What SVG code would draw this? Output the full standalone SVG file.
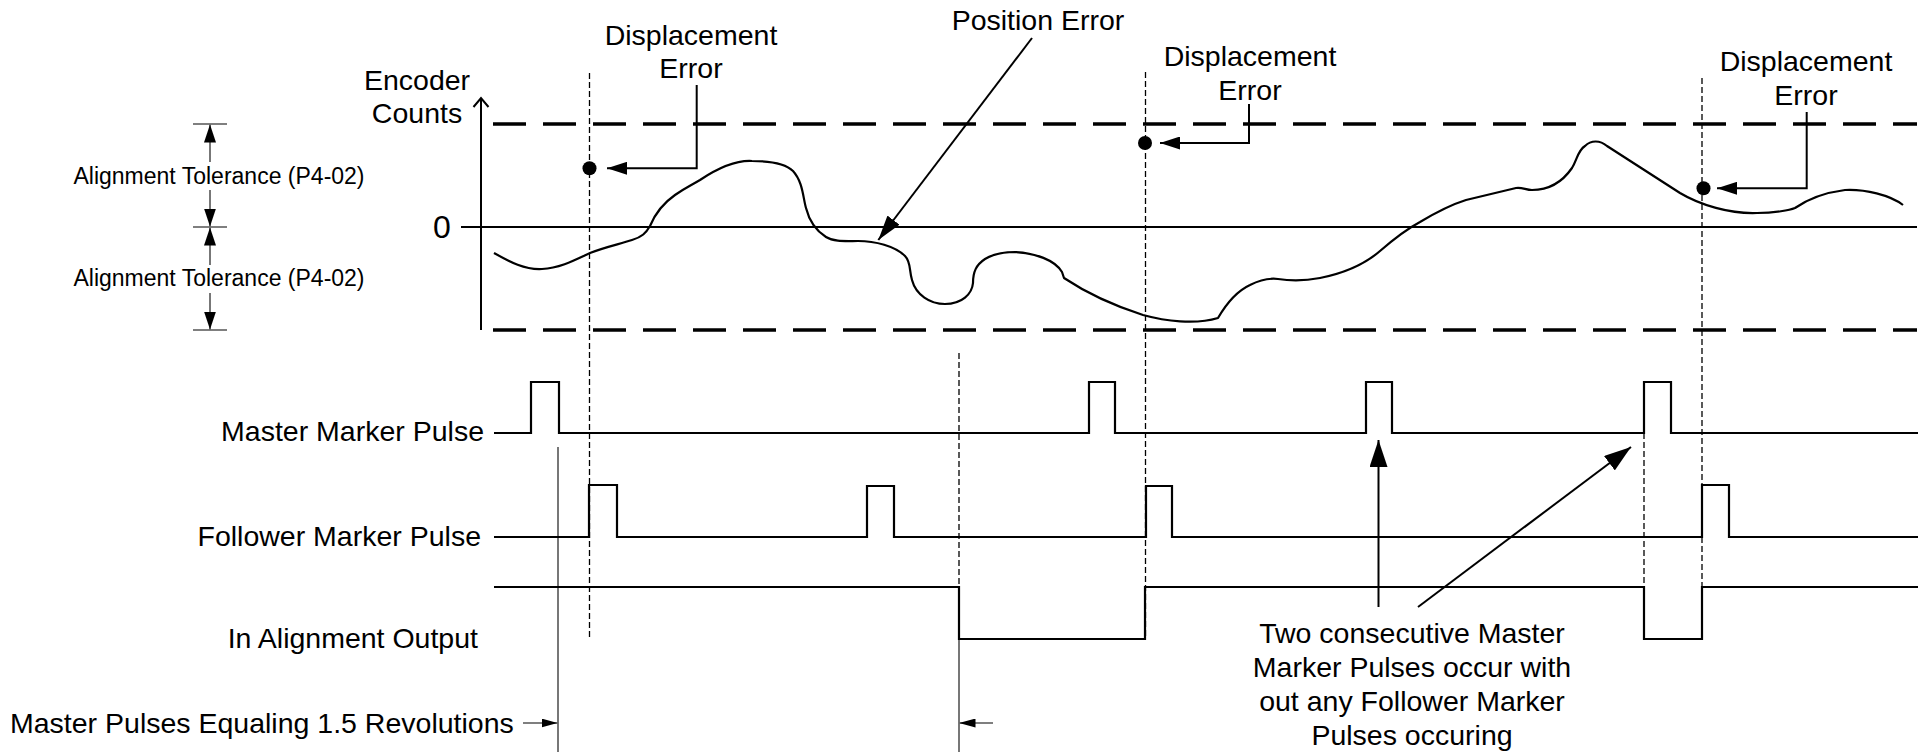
<svg xmlns="http://www.w3.org/2000/svg" width="1927" height="753" viewBox="0 0 1927 753">
<style>
text{font-family:"Liberation Sans",Arial,sans-serif;fill:#000}
.lbl{font-size:28.5px}
.tol{font-size:23px}
.mid{text-anchor:middle}
.end{text-anchor:end}
.sig{fill:none;stroke:#000;stroke-width:2.2;stroke-linejoin:miter}
.band{fill:none;stroke:#000;stroke-width:3.6;stroke-dasharray:33 17}
.vdash{fill:none;stroke:#000;stroke-width:1.3;stroke-dasharray:6 3}
.thin{fill:none;stroke:#000;stroke-width:2}
.gray{fill:none;stroke:#555;stroke-width:1.6}
.curve{fill:none;stroke:#000;stroke-width:2.2;stroke-linejoin:round}
</style>
<defs>
<marker id="mDisp" markerUnits="userSpaceOnUse" markerWidth="20" markerHeight="13" refX="20" refY="6.5" orient="auto"><path d="M0,0 L20,6.5 L0,13 z" fill="#000"/></marker>
<marker id="mPos" markerUnits="userSpaceOnUse" markerWidth="25" markerHeight="15" refX="25" refY="7.5" orient="auto"><path d="M0,0 L25,7.5 L0,15 z" fill="#000"/></marker>
<marker id="mCap" markerUnits="userSpaceOnUse" markerWidth="27" markerHeight="18" refX="27" refY="9" orient="auto"><path d="M0,0 L27,9 L0,18 z" fill="#000"/></marker>
<marker id="mTol" markerUnits="userSpaceOnUse" markerWidth="18" markerHeight="12" refX="18" refY="6" orient="auto"><path d="M0,0 L18,6 L0,12 z" fill="#000"/></marker>
<marker id="mRev" markerUnits="userSpaceOnUse" markerWidth="16" markerHeight="9" refX="16" refY="4.5" orient="auto"><path d="M0,0 L16,4.5 L0,9 z" fill="#000"/></marker>
</defs>

<g id="axes">
<line class="thin" x1="481" y1="98" x2="481" y2="330" stroke-width="2.5"/>
<polyline class="thin" points="473.5,107 481,98 488.5,107"/>
<line class="thin" x1="461" y1="227" x2="1917" y2="227"/>
<line class="band" x1="493" y1="124" x2="1917" y2="124"/>
<line class="band" x1="493" y1="330" x2="1917" y2="330"/>
<text class="lbl mid" x="417" y="90">Encoder</text>
<text class="lbl mid" x="417" y="123">Counts</text>
<text class="mid" x="442" y="238" font-size="32">0</text>
</g>

<g id="tolerance">
<path class="gray" d="M193,124 H227 M193,227 H227 M193,330 H227" stroke="#000"/>
<line class="gray" x1="210" y1="162" x2="210" y2="124.5" marker-end="url(#mTol)"/>
<line class="gray" x1="210" y1="190" x2="210" y2="226.5" marker-end="url(#mTol)"/>
<line class="gray" x1="210" y1="265" x2="210" y2="227.5" marker-end="url(#mTol)"/>
<line class="gray" x1="210" y1="293" x2="210" y2="329.5" marker-end="url(#mTol)"/>
<text class="tol mid" x="219" y="184">Alignment Tolerance (P4-02)</text>
<text class="tol mid" x="219" y="286">Alignment Tolerance (P4-02)</text>
</g>

<g id="position-error-curve">
<path class="curve" d="M494,253 C510,262 525,270 542,269 C560,268 575,260 590,253 C605,247 620,244 632,240 C642,237 646,233 650,226 C655,214 662,204 675,195 C685,188 690,186 700,180 C718,168 735,160 752,161 C770,161 785,163 793,171 C803,182 803,198 806,208 C809,220 815,230 826,237 C834,242 845,241 858,241 C875,241 895,246 905,256 C911,262 909,270 912,280 C916,295 930,304 945,304 C962,304 972,294 973,283 C973,272 976,265 985,259 C995,253 1005,252 1015,252 C1035,253 1055,260 1062,272 L1064,278 C1085,292 1115,306 1143,315 C1165,321 1195,325 1218,318 C1225,306 1235,292 1250,285 C1260,280 1270,278 1278,279 C1290,281 1305,281 1320,278 C1345,273 1365,264 1380,251 C1395,238 1405,230 1420,222 C1435,213 1450,205 1466,200 L1516,188 C1522,187 1526,190 1532,190 C1550,190 1563,181 1572,168 C1577,160 1578,150 1585,146 C1591,140 1600,140 1607,146 L1680,193 C1700,205 1730,214 1757,213 C1775,213 1790,210 1795,208 C1805,201 1822,193 1845,190 C1865,189 1890,195 1903,205"/>
</g>

<g id="markers-lines">
<line class="vdash" x1="589.5" y1="73" x2="589.5" y2="638"/>
<line class="vdash" x1="1145.5" y1="72" x2="1145.5" y2="639"/>
<line class="vdash" x1="1702" y1="78" x2="1702" y2="639"/>
<line class="vdash" x1="959" y1="353" x2="959" y2="587"/>
<line class="vdash" x1="1644" y1="433" x2="1644" y2="587"/>
<line class="gray" x1="558" y1="447" x2="558" y2="752"/>
<line class="gray" x1="959" y1="639" x2="959" y2="752"/>
</g>

<g id="signals">
<path class="sig" d="M494,433 H531 V382 H559 V433 H1089 V382 H1115 V433 H1366 V382 H1392 V433 H1644 V382 H1671 V433 H1918"/>
<path class="sig" d="M494,537 H589 V485 H617 V537 H867 V486 H894 V537 H1146 V486 H1172 V537 H1702 V485 H1729 V537 H1918"/>
<path class="sig" d="M494,587 H959 V639 H1145 V587 H1644 V639 H1702 V587 H1918"/>
<text class="lbl end" x="484" y="441">Master Marker Pulse</text>
<text class="lbl end" x="481" y="546">Follower Marker Pulse</text>
<text class="lbl end" x="478" y="648">In Alignment Output</text>
</g>

<g id="connectors">
<circle cx="589.5" cy="168.3" r="7"/>
<circle cx="1145" cy="143" r="7"/>
<circle cx="1703.5" cy="188.3" r="7"/>
<path class="thin" d="M696.7,85 V168.3 H607" marker-end="url(#mDisp)"/>
<path class="thin" d="M1249,104 V143 H1160" marker-end="url(#mDisp)"/>
<path class="thin" d="M1806.7,112 V188.3 H1717" marker-end="url(#mDisp)"/>
<line class="thin" x1="1032" y1="38" x2="878.3" y2="240" marker-end="url(#mPos)"/>
<line class="thin" x1="1378.5" y1="607" x2="1378.5" y2="440" marker-end="url(#mCap)"/>
<line class="thin" x1="1418" y1="607" x2="1631" y2="447" marker-end="url(#mCap)"/>
<line class="gray" x1="523" y1="723" x2="557.5" y2="723" marker-end="url(#mRev)"/>
<line class="gray" x1="993" y1="723" x2="959.5" y2="723" marker-end="url(#mRev)"/>
</g>

<g id="annotations">
<text class="lbl mid" x="691" y="45">Displacement</text>
<text class="lbl mid" x="691" y="78">Error</text>
<text class="lbl mid" x="1038" y="30">Position Error</text>
<text class="lbl mid" x="1250" y="66">Displacement</text>
<text class="lbl mid" x="1250" y="100">Error</text>
<text class="lbl mid" x="1806" y="71">Displacement</text>
<text class="lbl mid" x="1806" y="105">Error</text>
<text class="lbl" x="10" y="733">Master Pulses Equaling 1.5 Revolutions</text>
<text class="lbl mid" x="1412" y="643">Two consecutive Master</text>
<text class="lbl mid" x="1412" y="677">Marker Pulses occur with</text>
<text class="lbl mid" x="1412" y="711">out any Follower Marker</text>
<text class="lbl mid" x="1412" y="745">Pulses occuring</text>
</g>
</svg>
